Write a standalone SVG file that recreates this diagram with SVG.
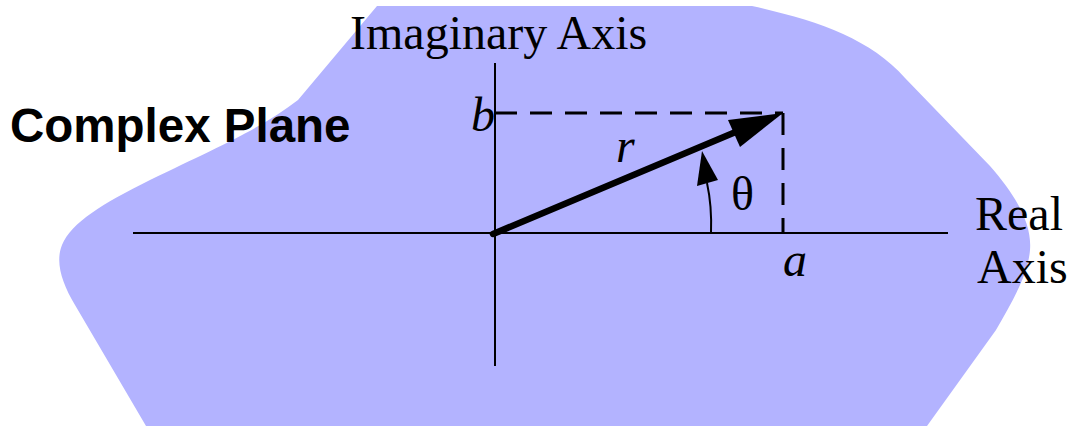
<svg xmlns="http://www.w3.org/2000/svg" width="1068" height="426" viewBox="0 0 1068 426">
<style>
.serif{font-family:"Liberation Serif","Times New Roman",serif;font-size:48px;fill:#000}
.it{font-style:italic}
.axis{stroke:#000;stroke-width:2;fill:none}
.dash{stroke:#000;stroke-width:3;stroke-dasharray:22 13;fill:none}
</style>
<rect width="1068" height="426" fill="#fff"/>
<g id="plane">
<path d="M377 6 L752 6 C815 20 870 38 905 78 L990 166 C1018 198 1032 225 1030 250 C1028 275 1012 302 996 330 L927 426 L146 426 L75 305 C62 283 55 262 62 245 C72 222 102 204 150 180 C220 146 262 128 298 100 Z" fill="#b3b3ff"/>
</g>
<g id="title"><text x="10" y="142" font-family="Liberation Sans,Arial,sans-serif" font-weight="bold" font-size="47.5">Complex Plane</text></g>
<g id="connectors">
<line class="axis" x1="133" y1="233" x2="948" y2="233"/>
<line class="axis" x1="495" y1="63" x2="495" y2="366"/>
<line class="dash" x1="495" y1="113" x2="783" y2="113"/>
<line class="dash" x1="783" y1="113" x2="783" y2="233"/>
<line x1="493" y1="234" x2="738" y2="131" stroke="#000" stroke-width="6.5" stroke-linecap="round"/>
<polygon points="783,113 728,120 740,147" fill="#000"/>
<path d="M711 233 Q712 206 707 183" stroke="#000" stroke-width="2" fill="none"/>
<polygon points="702,151 697,186 718,180" fill="#000"/>
</g>
<g id="labels">
<text class="serif" x="350" y="49">Imaginary Axis</text>
<text class="serif it" x="471" y="131">b</text>
<text class="serif it" x="616" y="162">r</text>
<text class="serif" x="731" y="210">θ</text>
<text class="serif it" x="783" y="276">a</text>
<text class="serif" x="975" y="230">Real</text>
<text class="serif" x="977" y="283">Axis</text>
</g>
</svg>
